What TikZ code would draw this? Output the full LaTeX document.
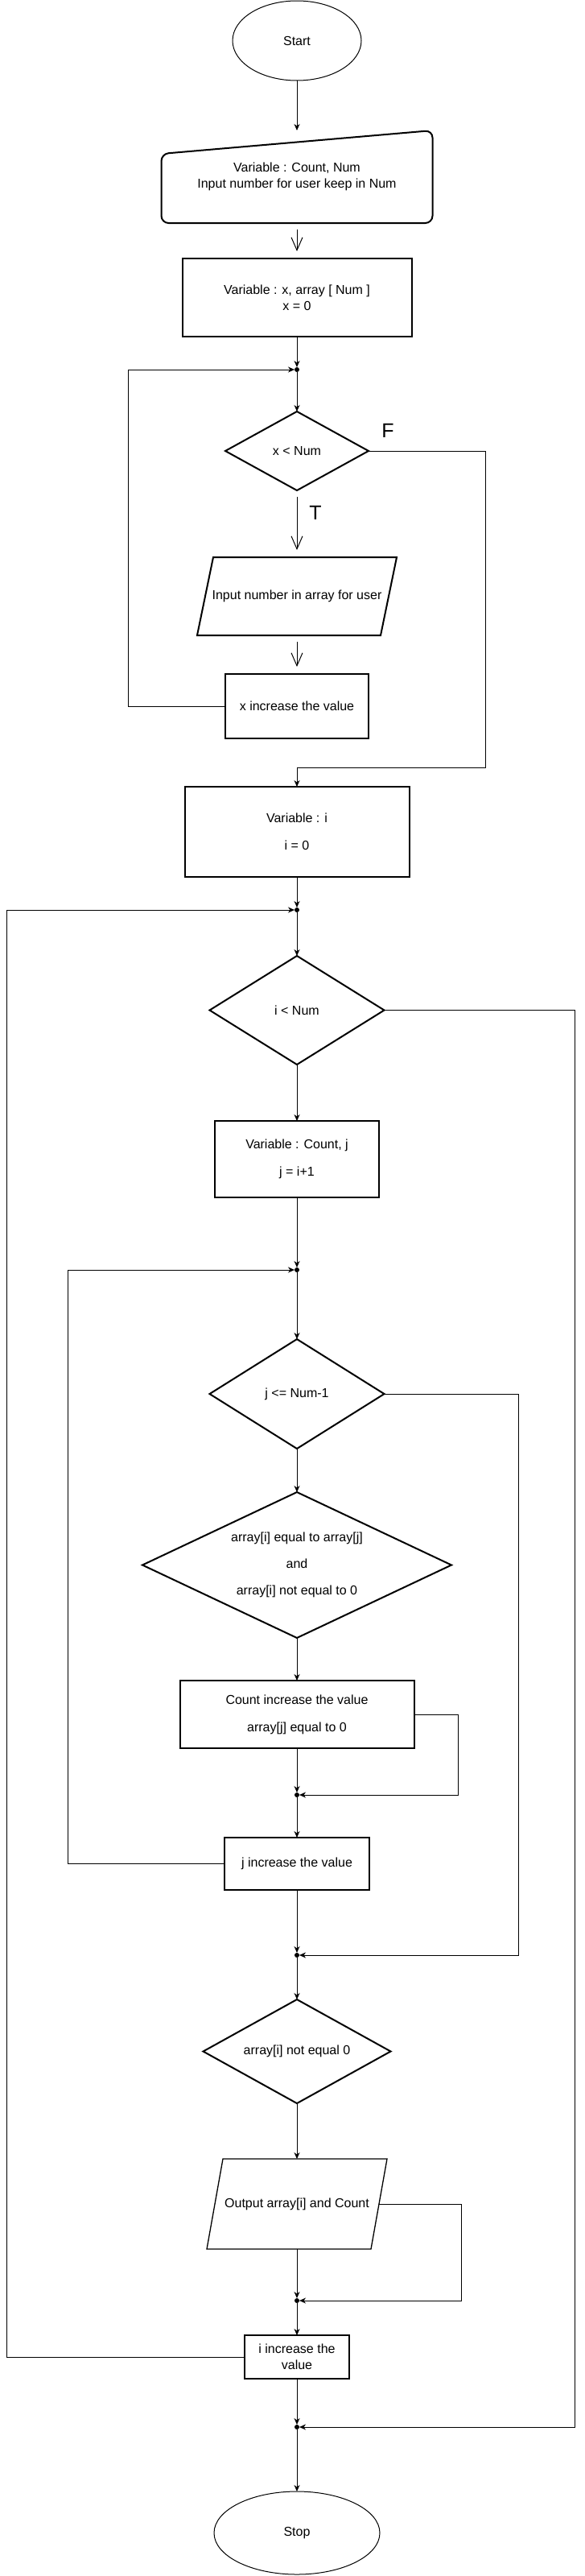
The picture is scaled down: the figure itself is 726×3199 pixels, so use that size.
\documentclass[tikz,border=0pt]{standalone}
\usepackage{fontspec}
\setmainfont{Liberation Sans}
\usetikzlibrary{shapes.geometric,arrows.meta,positioning,calc}

\begin{document}
\begin{tikzpicture}[x=1pt,y=-1pt,
    font=\fontsize{16pt}{20pt}\selectfont,
    every node/.style={align=center, inner sep=0pt, outer sep=0pt},
    line/.style={line width=1pt, -{Stealth[length=8pt,width=7pt,inset=2.5pt]}},
    openline/.style={line width=1pt, -{Straight Barb[length=16pt,width=14pt]}, shorten <=8pt, shorten >=9pt},
    termbox/.style={ellipse, draw, line width=1pt},
    procbox/.style={rectangle, draw, line width=2pt},
    decbox/.style={diamond, draw, line width=2pt, aspect=2},
    iobox/.style={rectangle},
    jn/.style={circle, fill=black, minimum size=6pt},
    big/.style={font=\fontsize{25pt}{30pt}\selectfont}
]
    \useasboundingbox (0,0) rectangle (726,3199);

    % Start and input
    \node[termbox, minimum width=160pt, minimum height=99pt] (start) at (369,50.5) {Start};
    \node[iobox, minimum width=337pt, minimum height=115pt] (num) at (369,219.5)
        {Variable : Count, Num\\Input number for user keep in Num};
    \draw[line width=2pt, rounded corners=9pt] (num.south west) -- ($(num.north west)+(0,29)$)
        -- (num.north east) -- (num.south east) -- cycle;
    \node[procbox, minimum width=285pt, minimum height=97pt] (initx) at (369,369.5)
        {Variable : x, array [ Num ]\\x = 0};

    % Loop over x
    \node[jn] (xjoin) at (369,459) {};
    \node[decbox, minimum width=178pt, minimum height=98pt] (xtest) at (369,560) {x < Num};
    \node[iobox, minimum width=228pt, minimum height=97pt] (readarr) at (369,740.5)
        {Input number in array for user};
    \draw[line width=2pt] ([xshift=-10pt]readarr.south west) -- ([xshift=10pt]readarr.north west)
        -- ([xshift=10pt]readarr.north east) -- ([xshift=-10pt]readarr.south east) -- cycle;
    \node[procbox, minimum width=178pt, minimum height=80pt] (xinc) at (369,877) {x increase the value};
    \node[big] (flabel) at (482,535) {F};
    \node[big] (tlabel) at (392,637) {T};

    % Loop over i
    \node[procbox, minimum width=279pt, minimum height=112pt] (initi) at (369,1033)
        {Variable : i\\[14pt]i = 0};
    \node[jn] (ijoin) at (369,1130) {};
    \node[decbox, minimum width=217pt, minimum height=135pt] (itest) at (369,1254.5) {i < Num};
    \node[procbox, minimum width=204pt, minimum height=95pt] (initj) at (369,1439.5)
        {Variable : Count, j\\[14pt]j = i+1};

    % Loop over j
    \node[jn] (jjoin) at (369,1577) {};
    \node[decbox, minimum width=217pt, minimum height=136pt] (jtest) at (369,1731) {j <= Num-1};
    \node[decbox, minimum width=384pt, minimum height=181pt] (same) at (369,1943.5)
        {array[i] equal to array[j]\\[13pt]and\\[13pt]array[i] not equal to 0};
    \node[procbox, minimum width=291pt, minimum height=84pt] (count) at (369,2129)
        {Count increase the value\\[14pt]array[j] equal to 0};
    \node[jn] (cjoin) at (369,2229) {};
    \node[procbox, minimum width=180pt, minimum height=65pt] (jinc) at (369,2314.5) {j increase the value};
    \node[jn] (jend) at (369,2428) {};

    % Output
    \node[decbox, minimum width=233pt, minimum height=129pt] (nonzero) at (369,2547.5) {array[i] not equal 0};
    \node[iobox, minimum width=204pt, minimum height=112pt] (show) at (369,2737) {Output array[i] and Count};
    \draw[line width=1.3pt] ([xshift=-10pt]show.south west) -- ([xshift=10pt]show.north west)
        -- ([xshift=10pt]show.north east) -- ([xshift=-10pt]show.south east) -- cycle;
    \node[jn] (ojoin) at (369,2857) {};
    \node[draw, line width=1.3pt, minimum width=130pt, minimum height=54pt] (iinc) at (369,2927)
        {i increase the\\value};
    \node[jn] (iend) at (369,3014) {};
    \node[termbox, minimum width=206pt, minimum height=103pt] (stop) at (369,3145.5) {Stop};

    % Rails
    \coordinate (xloop) at (159,459);
    \coordinate (fcorner) at (603,953);
    \coordinate (iloop) at (8,1130);
    \coordinate (irail) at (714,3014);
    \coordinate (jloop) at (84,1577);
    \coordinate (jrail) at (644,2428);
    \coordinate (crail) at (569,2229);
    \coordinate (orail) at (573,2857);

    % Connectors
    \draw[line] (start) -- (num);
    \draw[openline] (num) -- (initx);
    \draw[line] (initx) -- (xjoin);
    \draw[line] (xjoin) -- (xtest);
    \draw[openline] (xtest) -- (readarr);
    \draw[openline] (readarr) -- (xinc);
    \draw[line] (xinc.west) -| (xloop) -- (xjoin);
    \draw[line] (xtest.east) -| (fcorner) -| (initi.north);

    \draw[line] (initi) -- (ijoin);
    \draw[line] (ijoin) -- (itest);
    \draw[line] (itest) -- (initj);
    \draw[line] (initj) -- (jjoin);
    \draw[line] (jjoin) -- (jtest);
    \draw[line] (jtest) -- (same);
    \draw[line] (same) -- (count);
    \draw[line] (count) -- (cjoin);
    \draw[line] (count.east) -| (crail) -- (cjoin);
    \draw[line] (cjoin) -- (jinc);
    \draw[line] (jinc.west) -| (jloop) -- (jjoin);
    \draw[line] (jinc) -- (jend);
    \draw[line] (jtest.east) -| (jrail) -- (jend);

    \draw[line] (jend) -- (nonzero);
    \draw[line] (nonzero) -- (show);
    \draw[line] (show) -- (ojoin);
    \draw[line] (show.east) -| (orail) -- (ojoin);
    \draw[line] (ojoin) -- (iinc);
    \draw[line] (iinc.west) -| (iloop) -- (ijoin);
    \draw[line] (iinc) -- (iend);
    \draw[line] (itest.east) -| (irail) -- (iend);
    \draw[line] (iend) -- (stop);
\end{tikzpicture}
\end{document}
